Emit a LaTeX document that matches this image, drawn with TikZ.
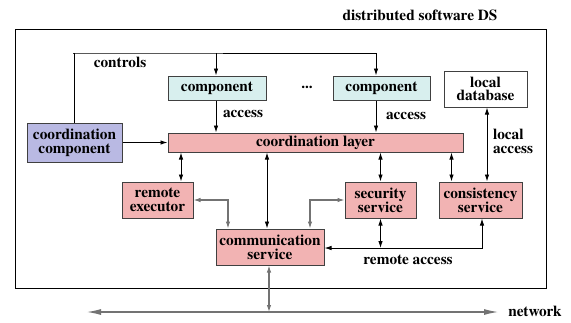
\documentclass[tikz,border=0pt]{standalone}
\usepackage{fontspec}
\setmainfont{texgyretermes}[Extension=.otf,UprightFont=*-regular,BoldFont=*-bold,ItalicFont=*-italic,BoldItalicFont=*-bolditalic]
\usetikzlibrary{arrows.meta}
\definecolor{layerpink}{HTML}{F2B3B3}
\definecolor{compcyan}{HTML}{D8EFEE}
\definecolor{coordblue}{HTML}{B9B9E3}
\begin{document}
\begin{tikzpicture}[x=1pt,y=-1pt,
	font=\rmfamily\bfseries\fontsize{15.3}{13.8}\selectfont,
	>={Latex[length=7pt,width=4.5pt]}]
\tikzstyle{box}=[rectangle,draw=black!75,line width=1pt,inner sep=1pt,align=center]
\tikzset{
	pink box/.style={box,fill=layerpink,minimum height=36pt},
	cyan box/.style={box,fill=compcyan,minimum height=24pt},
	link/.style={line width=0.9pt},
	grey link/.style={line width=1.1pt,draw=black!55}
}
\useasboundingbox (0,0) rectangle (571,322);
\node (title) at (420,15) {distributed software DS};
\draw[line width=1pt] (15,29) rectangle (546,288);
% upper row
\node[cyan box,minimum width=98pt] (comp1) at (217,88) {component};
\node[cyan box,minimum width=97pt] (comp2) at (381.5,88) {component};
\node (dots) at (307,87) {...};
\node[box,fill=white,minimum width=83pt,minimum height=36pt] (locdb) at (485.5,89) {local\\database};
\node[box,fill=coordblue,minimum width=95pt,minimum height=39pt] (coordcomp) at (74.5,142.5) {coordination\\component};
\node[box,fill=layerpink,minimum width=295pt,minimum height=19pt] (layer) at (315.5,142.5) {coordination layer};
% services
\node[pink box,minimum width=71pt] (remexec) at (157.5,200) {remote\\executor};
\node[pink box,minimum width=71pt] (secserv) at (380.5,200) {security\\service};
\node[pink box,minimum width=83pt] (conserv) at (480.5,200) {consistency\\service};
\node[pink box,minimum width=108pt] (commserv) at (270,247) {communication\\service};
% labels
\node (controls) at (120,62) {controls};
\node (acc1) at (243,114) {access};
\node (acc2) at (406,116) {access};
\node[align=left] (locacc) at (513,141.5) {local\\access};
\node (remacc) at (408,260) {remote access};
\node (net) at (535,311) {network};
\coordinate (netL) at (87,312);
\coordinate (netR) at (498,312);
% connectors
\draw[link,->] (coordcomp.north) |- (73,53) -| ([xshift=-5.5pt]comp2.north);
\draw[link,->] ([xshift=-1pt]comp1.north |- 0,53) -- ([xshift=-1pt]comp1.north);
\draw[link,->] ([xshift=-1pt]comp1.south) -- ([xshift=-1pt]comp1.south |- layer.north);
\draw[link,->] ([xshift=-5.5pt]comp2.south) -- ([xshift=-5.5pt]comp2.south |- layer.north);
\draw[link,->] (coordcomp.east) -- (layer.west);
\draw[link,<->] ([xshift=23.5pt]remexec.north |- layer.south) -- ([xshift=23.5pt]remexec.north);
\draw[link,<->] ([xshift=-3pt]commserv.north |- layer.south) -- ([xshift=-3pt]commserv.north);
\draw[link,<->] (secserv.north |- layer.south) -- (secserv.north);
\draw[link,<->] ([xshift=-29pt]conserv.north |- layer.south) -- ([xshift=-29pt]conserv.north);
\draw[link,<->] ([xshift=6.5pt]conserv.north) -- ([xshift=6.5pt]conserv.north |- locdb.south);
\draw[grey link,<->] (remexec.east) -| ([xshift=-42pt]commserv.north);
\draw[grey link,<->] (secserv.west) -| ([xshift=40pt]commserv.north);
\draw[link,<->] ([xshift=1.5pt]conserv.south) |- ([yshift=-1pt]commserv.east);
\draw[link,<->] (secserv.south) -- (secserv.south |- 0,248);
\draw[grey link,<->] ([xshift=-1pt]commserv.south) -- ([xshift=-1pt]commserv.south |- netL);
\draw[grey link,<->,>={Latex[length=14pt,width=6pt]}] (netL) -- (netR);
\end{tikzpicture}
\end{document}
